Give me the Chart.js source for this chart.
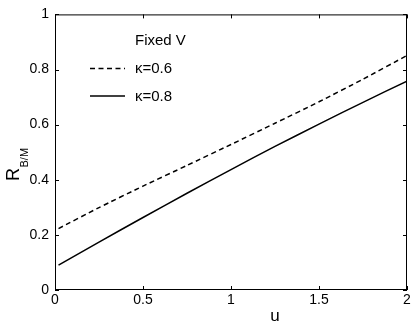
<!DOCTYPE html>
<html>
<head>
<meta charset="utf-8">
<script src="https://cdn.jsdelivr.net/npm/chart.js@4.4.1/dist/chart.umd.min.js"></script>
<style>
  html, body { margin: 0; padding: 0; background: #fff; }
  #wrap { width: 415px; height: 325px; }
</style>
</head>
<body>
<div id="wrap"><canvas id="grafico" width="415" height="325"></canvas></div>
<script>
// ===== DADOS =====
const uVals   = [0.02, 0.25, 0.5, 0.75, 1, 1.25, 1.5, 1.75, 2];
const kappa06 = [0.223, 0.299, 0.377, 0.452, 0.528, 0.605, 0.683, 0.765, 0.851];
const kappa08 = [0.090, 0.174, 0.263, 0.351, 0.437, 0.521, 0.602, 0.681, 0.758];
const xTicks  = [0, 0.5, 1, 1.5, 2];
const yTicks  = [0, 0.2, 0.4, 0.6, 0.8, 1];
const legendLabels = ["\u03BA=0.6", "\u03BA=0.8"];
const legendTitle  = "Fixed V";

const FONT = "'Liberation Sans', Arial, sans-serif";

function pontos(valores) {
  return uVals.map((u, i) => ({ x: u, y: valores[i] }));
}

// ===== PLUGIN: MOLDURA, TICKS, TITULOS E LEGENDA =====
const estiloMatlab = {
  id: "estiloMatlab",
  afterDraw(chart) {
    const ctx = chart.ctx;
    const a = chart.chartArea;
    const sx = chart.scales.x, sy = chart.scales.y;
    ctx.save();
    ctx.strokeStyle = "#000";
    ctx.lineWidth = 1;
    ctx.strokeRect(a.left + 0.5, a.top + 0.5, a.right - a.left - 1, a.bottom - a.top - 1);

    const tl = 4;
    ctx.beginPath();
    xTicks.forEach(v => {
      const px = Math.round(sx.getPixelForValue(v)) + 0.5;
      ctx.moveTo(px, a.bottom); ctx.lineTo(px, a.bottom - tl);
      ctx.moveTo(px, a.top); ctx.lineTo(px, a.top + tl);
    });
    yTicks.forEach(v => {
      const py = Math.round(sy.getPixelForValue(v)) + 0.5;
      ctx.moveTo(a.left, py); ctx.lineTo(a.left + tl, py);
      ctx.moveTo(a.right, py); ctx.lineTo(a.right - tl, py);
    });
    ctx.stroke();

    // titulo eixo y: R com subscrito B/M
    ctx.fillStyle = "#000";
    ctx.save();
    ctx.translate(19, 181);
    ctx.rotate(-Math.PI / 2);
    ctx.textAlign = "left";
    ctx.textBaseline = "alphabetic";
    ctx.font = "18px " + FONT;
    ctx.fillText("R", 0, 0);
    const w = ctx.measureText("R").width;
    ctx.font = "11px " + FONT;
    ctx.fillText("B/M", w + 0.5, 9);
    ctx.restore();

    // titulo eixo x
    ctx.font = "17px " + FONT;
    ctx.textAlign = "center";
    ctx.textBaseline = "alphabetic";
    ctx.fillText("u", 275, 321);

    // legenda
    ctx.font = "15px " + FONT;
    ctx.textAlign = "left";
    ctx.textBaseline = "middle";
    ctx.fillText(legendTitle, 135, 41);
    const linhas = [{ y: 68.5, dash: [5, 3.5] }, { y: 96, dash: [] }];
    linhas.forEach((l, i) => {
      ctx.beginPath();
      ctx.setLineDash(l.dash);
      ctx.lineWidth = 1.5;
      ctx.moveTo(90, l.y); ctx.lineTo(125, l.y);
      ctx.stroke();
      ctx.setLineDash([]);
      ctx.fillText(legendLabels[i], 135, l.y + 0.5);
    });
    ctx.restore();
  }
};

// ===== GRAFICO =====
new Chart(document.getElementById("grafico").getContext("2d"), {
  type: "line",
  data: {
    datasets: [
      {
        label: legendLabels[0],
        data: pontos(kappa06),
        borderColor: "#000",
        borderWidth: 1.5,
        borderDash: [5, 3.5],
        pointRadius: 0,
        tension: 0.2,
        fill: false
      },
      {
        label: legendLabels[1],
        data: pontos(kappa08),
        borderColor: "#000",
        borderWidth: 1.5,
        pointRadius: 0,
        tension: 0.2,
        fill: false
      }
    ]
  },
  options: {
    responsive: false,
    animation: false,
    layout: { padding: { left: 0, right: 8, top: 12, bottom: 0 } },
    plugins: { legend: { display: false }, tooltip: { enabled: false } },
    scales: {
      x: {
        type: "linear",
        min: 0, max: 2,
        afterBuildTicks: s => { s.ticks = xTicks.map(v => ({ value: v })); },
        afterFit: s => { s.height = 35; },
        grid: { display: false, drawTicks: false },
        border: { display: false },
        ticks: {
          color: "#000", font: { family: FONT, size: 14 }, padding: 2, maxRotation: 0,
          callback: v => String(v)
        }
      },
      y: {
        type: "linear",
        min: 0, max: 1,
        afterBuildTicks: s => { s.ticks = yTicks.map(v => ({ value: v })); },
        afterFit: s => { s.width = 55; },
        grid: { display: false, drawTicks: false },
        border: { display: false },
        ticks: {
          color: "#000", font: { family: FONT, size: 14 }, padding: 6,
          callback: v => String(v)
        }
      }
    }
  },
  plugins: [estiloMatlab]
});
</script>
</body>
</html>
